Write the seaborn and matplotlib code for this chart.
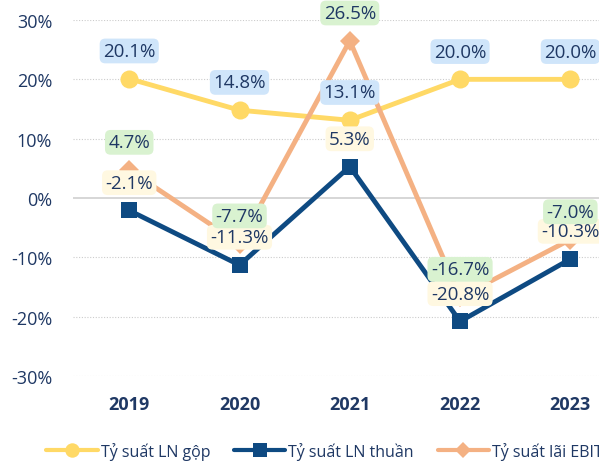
import numpy as np
import pandas as pd
import seaborn as sns
import matplotlib.pyplot as plt
from matplotlib.lines import Line2D

years = ['2019', '2020', '2021', '2022', '2023']
gross = [20.1, 14.8, 13.1, 20.0, 20.0]     # Tỷ suất LN gộp
net = [-2.1, -11.3, 5.3, -20.8, -10.3]     # Tỷ suất LN thuần
ebit = [4.7, -7.7, 26.5, -16.7, -7.0]      # Tỷ suất lãi EBIT

names = ['Tỷ suất LN gộp', 'Tỷ suất LN thuần', 'Tỷ suất lãi EBIT']
colors = ['#FFD966', '#0E4A82', '#F4B183']
markers = ['o', 's', 'D']
msizes = [13, 12, 10]
boxes = ['#CFE5FA', '#FFF8E1', '#D9F2D0']
navy = '#1F3864'

sns.set_style('white')
plt.rcParams['font.family'] = ['Open Sans', 'DejaVu Sans']

fig = plt.figure(figsize=(5.99, 4.64), dpi=100)
ax = fig.add_axes([73/599, 1-377/464, 1-73/599, (377-21)/464])

x = np.arange(len(years))
for i, (vals, name) in enumerate(zip([gross, net, ebit], names)):
    df = pd.DataFrame({'x': x, 'y': vals})
    z = [3, 5, 4][i]
    sns.lineplot(data=df, x='x', y='y', ax=ax, color=colors[i], marker=markers[i],
                 markersize=msizes[i], markeredgewidth=0, linewidth=3.5, zorder=z,
                 label=name, legend=False)

# data labels
for i, vals in enumerate([gross, net, ebit]):
    for xi, v in zip(x, vals):
        ax.annotate(f'{v:.1f}%', (xi, v), xytext=(0, 20), textcoords='offset points',
                    ha='center', va='center', fontsize=13.5, color=navy, zorder=10,
                    annotation_clip=False,
                    bbox=dict(boxstyle='round,pad=0.18,rounding_size=0.3', fc=boxes[i], ec='none'))

ax.set_ylim(-30, 30)
ax.set_xlim(-0.51, 4.26)
ax.set_yticks(range(-30, 31, 10))
ax.set_yticklabels([f'{t}%' for t in range(-30, 31, 10)], fontsize=13, color=navy)
ax.set_xticks(x)
ax.set_xticklabels(years, fontsize=13, fontweight='bold', color=navy)
ax.tick_params(axis='y', length=0, pad=15)
ax.tick_params(axis='x', length=0, pad=14)
ax.set_xlabel('')
ax.set_ylabel('')
for t in range(-30, 31, 10):
    if t == 0:
        ax.axhline(0, color='#D0D0D0', lw=1.2, zorder=1)
    else:
        ax.axhline(t, color='#CCCCCC', lw=0.8, ls=(0, (1, 1.5)), zorder=1)
for s in ax.spines.values():
    s.set_visible(False)

handles = [Line2D([], [], color=c, marker=m, markersize=ms * 0.8, markeredgewidth=0, lw=3)
           for c, m, ms in zip(colors, markers, msizes)]
fig.legend(handles, names, loc='center left', bbox_to_anchor=(40/599, 1-452/464),
           ncol=3, frameon=False, fontsize=11.5, labelcolor=navy,
           handlelength=3.2, handletextpad=0.2, columnspacing=1.5, borderaxespad=0)

fig.savefig('out.png', dpi=100)
